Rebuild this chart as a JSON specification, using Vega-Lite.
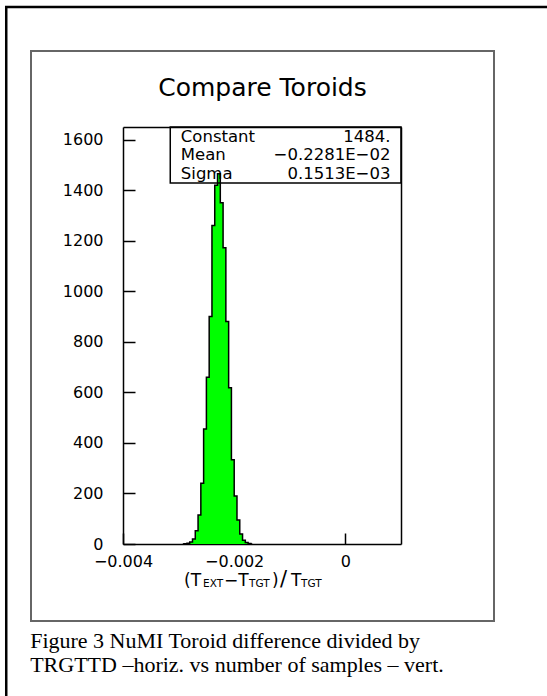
{
  "$schema": "https://vega.github.io/schema/vega-lite/v6.json",
  "width": 463,
  "height": 570,
  "autosize": {"type": "none"},
  "padding": {"left": 31, "top": 51, "right": 53, "bottom": 75},
  "background": "white",
  "config": {
    "view": {"stroke": "#666666", "strokeWidth": 2},
    "axis": {
      "grid": false,
      "domainColor": "black",
      "domainWidth": 1.5,
      "tickColor": "black",
      "tickWidth": 1.5,
      "labelFont": "DejaVu Sans",
      "labelFontSize": 16,
      "labelColor": "black",
      "titleFont": "DejaVu Sans",
      "titleFontWeight": "normal",
      "titleColor": "black"
    }
  },
  "datasets": {
    "hist": [
      {"x": -0.002925, "n": 0},
      {"x": -0.002875, "n": 1},
      {"x": -0.002825, "n": 3},
      {"x": -0.002775, "n": 8},
      {"x": -0.002725, "n": 20},
      {"x": -0.002675, "n": 52},
      {"x": -0.002625, "n": 115},
      {"x": -0.002575, "n": 240},
      {"x": -0.002525, "n": 455},
      {"x": -0.002475, "n": 660},
      {"x": -0.002425, "n": 900},
      {"x": -0.002375, "n": 1260},
      {"x": -0.002325, "n": 1420},
      {"x": -0.002275, "n": 1465},
      {"x": -0.002225, "n": 1350},
      {"x": -0.002175, "n": 1172},
      {"x": -0.002125, "n": 880},
      {"x": -0.002075, "n": 618},
      {"x": -0.002025, "n": 333},
      {"x": -0.001975, "n": 190},
      {"x": -0.001925, "n": 95},
      {"x": -0.001875, "n": 40},
      {"x": -0.001825, "n": 15},
      {"x": -0.001775, "n": 6},
      {"x": -0.001725, "n": 2},
      {"x": -0.001675, "n": 0}
    ],
    "fit": [
      {"names": ["Constant", "Mean", "Sigma"], "values": ["1484.", "−0.2281E−02", "0.1513E−03"]}
    ],
    "caption": [
      {"lines": ["Figure 3 NuMI Toroid difference divided by", "TRGTTD –horiz. vs number of samples – vert."]}
    ],
    "one": [{}]
  },
  "layer": [
    {
      "data": {"name": "hist"},
      "mark": {"type": "area", "interpolate": "step", "color": "#00ff00"},
      "encoding": {
        "x": {
          "field": "x", "type": "quantitative",
          "scale": {"domain": [-0.004, 0.001], "range": [92, 370], "nice": false, "zero": false},
          "axis": {
            "orient": "bottom", "offset": -77, "values": [-0.004, -0.002, 0],
            "tickSize": -11, "labelPadding": 20, "labelFlush": false, "labelOverlap": false,
            "labelExpr": "datum.value == 0 ? '0' : format(datum.value, '.3f')",
            "title": null
          }
        },
        "y": {
          "field": "n", "type": "quantitative",
          "scale": {"domain": [0, 1650], "range": [493, 76], "nice": false},
          "axis": {
            "orient": "left", "offset": -92,
            "values": [0, 200, 400, 600, 800, 1000, 1200, 1400, 1600],
            "format": "d", "tickSize": -12, "labelPadding": 32, "title": null
          }
        }
      }
    },
    {
      "data": {"name": "hist"},
      "mark": {"type": "line", "interpolate": "step", "color": "black", "strokeWidth": 1.5},
      "encoding": {
        "x": {
          "field": "x", "type": "quantitative",
          "axis": {
            "orient": "top", "offset": -76, "ticks": false, "labels": false,
            "title": "Compare Toroids", "titleFontSize": 25, "titlePadding": 27
          }
        },
        "y": {
          "field": "n", "type": "quantitative",
          "axis": {"orient": "right", "offset": -93, "ticks": false, "labels": false, "title": null}
        }
      }
    },
    {
      "data": {"name": "one"},
      "mark": {"type": "rect", "fillOpacity": 0, "stroke": "black", "strokeWidth": 1.5},
      "encoding": {
        "x": {"datum": -0.00315, "type": "quantitative", "axis": null},
        "x2": {"datum": 0.001},
        "y": {"datum": 1650, "type": "quantitative", "axis": null},
        "y2": {"datum": 1428}
      }
    },
    {
      "data": {"name": "fit"},
      "mark": {"type": "text", "align": "left", "baseline": "alphabetic", "font": "DejaVu Sans", "fontSize": 16.5, "lineHeight": 18.5, "color": "black"},
      "encoding": {
        "x": {"datum": -0.00296, "type": "quantitative", "axis": null},
        "y": {"datum": 1591, "type": "quantitative", "axis": null},
        "text": {"field": "names"}
      }
    },
    {
      "data": {"name": "fit"},
      "mark": {"type": "text", "align": "right", "baseline": "alphabetic", "font": "DejaVu Sans", "fontSize": 16.5, "lineHeight": 18.5, "color": "black"},
      "encoding": {
        "x": {"datum": 0.00081, "type": "quantitative", "axis": null},
        "y": {"datum": 1591, "type": "quantitative", "axis": null},
        "text": {"field": "values"}
      }
    },
    {
      "data": {"name": "one"},
      "mark": {"type": "text", "align": "left", "baseline": "alphabetic", "font": "DejaVu Sans", "fontSize": 17, "color": "black", "dx": -78},
      "encoding": {
        "x": {"datum": -0.0015, "type": "quantitative", "axis": null},
        "y": {"datum": -166, "type": "quantitative", "axis": null},
        "text": {"value": "(T"}
      }
    },
    {
      "data": {"name": "one"},
      "mark": {"type": "text", "align": "left", "baseline": "alphabetic", "font": "DejaVu Sans", "fontSize": 10.5, "color": "black", "dx": -59},
      "encoding": {
        "x": {"datum": -0.0015, "type": "quantitative", "axis": null},
        "y": {"datum": -172, "type": "quantitative", "axis": null},
        "text": {"value": "EXT"}
      }
    },
    {
      "data": {"name": "one"},
      "mark": {"type": "text", "align": "left", "baseline": "alphabetic", "font": "DejaVu Sans", "fontSize": 17, "color": "black", "dx": -38},
      "encoding": {
        "x": {"datum": -0.0015, "type": "quantitative", "axis": null},
        "y": {"datum": -166, "type": "quantitative", "axis": null},
        "text": {"value": "−T"}
      }
    },
    {
      "data": {"name": "one"},
      "mark": {"type": "text", "align": "left", "baseline": "alphabetic", "font": "DejaVu Sans", "fontSize": 10.5, "color": "black", "dx": -13},
      "encoding": {
        "x": {"datum": -0.0015, "type": "quantitative", "axis": null},
        "y": {"datum": -172, "type": "quantitative", "axis": null},
        "text": {"value": "TGT"}
      }
    },
    {
      "data": {"name": "one"},
      "mark": {"type": "text", "align": "left", "baseline": "alphabetic", "font": "DejaVu Sans", "fontSize": 17, "color": "black", "dx": 10},
      "encoding": {
        "x": {"datum": -0.0015, "type": "quantitative", "axis": null},
        "y": {"datum": -166, "type": "quantitative", "axis": null},
        "text": {"value": ")"}
      }
    },
    {
      "data": {"name": "one"},
      "mark": {"type": "text", "align": "left", "baseline": "alphabetic", "font": "DejaVu Sans", "fontSize": 21, "color": "black", "dx": 18},
      "encoding": {
        "x": {"datum": -0.0015, "type": "quantitative", "axis": null},
        "y": {"datum": -166, "type": "quantitative", "axis": null},
        "text": {"value": "/"}
      }
    },
    {
      "data": {"name": "one"},
      "mark": {"type": "text", "align": "left", "baseline": "alphabetic", "font": "DejaVu Sans", "fontSize": 17, "color": "black", "dx": 29},
      "encoding": {
        "x": {"datum": -0.0015, "type": "quantitative", "axis": null},
        "y": {"datum": -166, "type": "quantitative", "axis": null},
        "text": {"value": "T"}
      }
    },
    {
      "data": {"name": "one"},
      "mark": {"type": "text", "align": "left", "baseline": "alphabetic", "font": "DejaVu Sans", "fontSize": 10.5, "color": "black", "dx": 39},
      "encoding": {
        "x": {"datum": -0.0015, "type": "quantitative", "axis": null},
        "y": {"datum": -172, "type": "quantitative", "axis": null},
        "text": {"value": "TGT"}
      }
    },
    {
      "data": {"name": "caption"},
      "mark": {"type": "text", "align": "left", "baseline": "alphabetic", "font": "Liberation Serif", "fontSize": 22, "lineHeight": 23.5, "color": "black"},
      "encoding": {
        "x": {"datum": -0.00567, "type": "quantitative", "axis": null},
        "y": {"datum": -412, "type": "quantitative", "axis": null},
        "text": {"field": "lines"}
      }
    },
    {
      "data": {"name": "one"},
      "mark": {"type": "rect", "fillOpacity": 0, "stroke": "black", "strokeWidth": 2.5},
      "encoding": {
        "x": {"datum": -0.0061, "type": "quantitative", "axis": null},
        "x2": {"datum": 0.0045},
        "y": {"datum": 2125, "type": "quantitative", "axis": null},
        "y2": {"datum": -700}
      }
    }
  ],
  "resolve": {"axis": {"x": "independent", "y": "independent"}}
}
